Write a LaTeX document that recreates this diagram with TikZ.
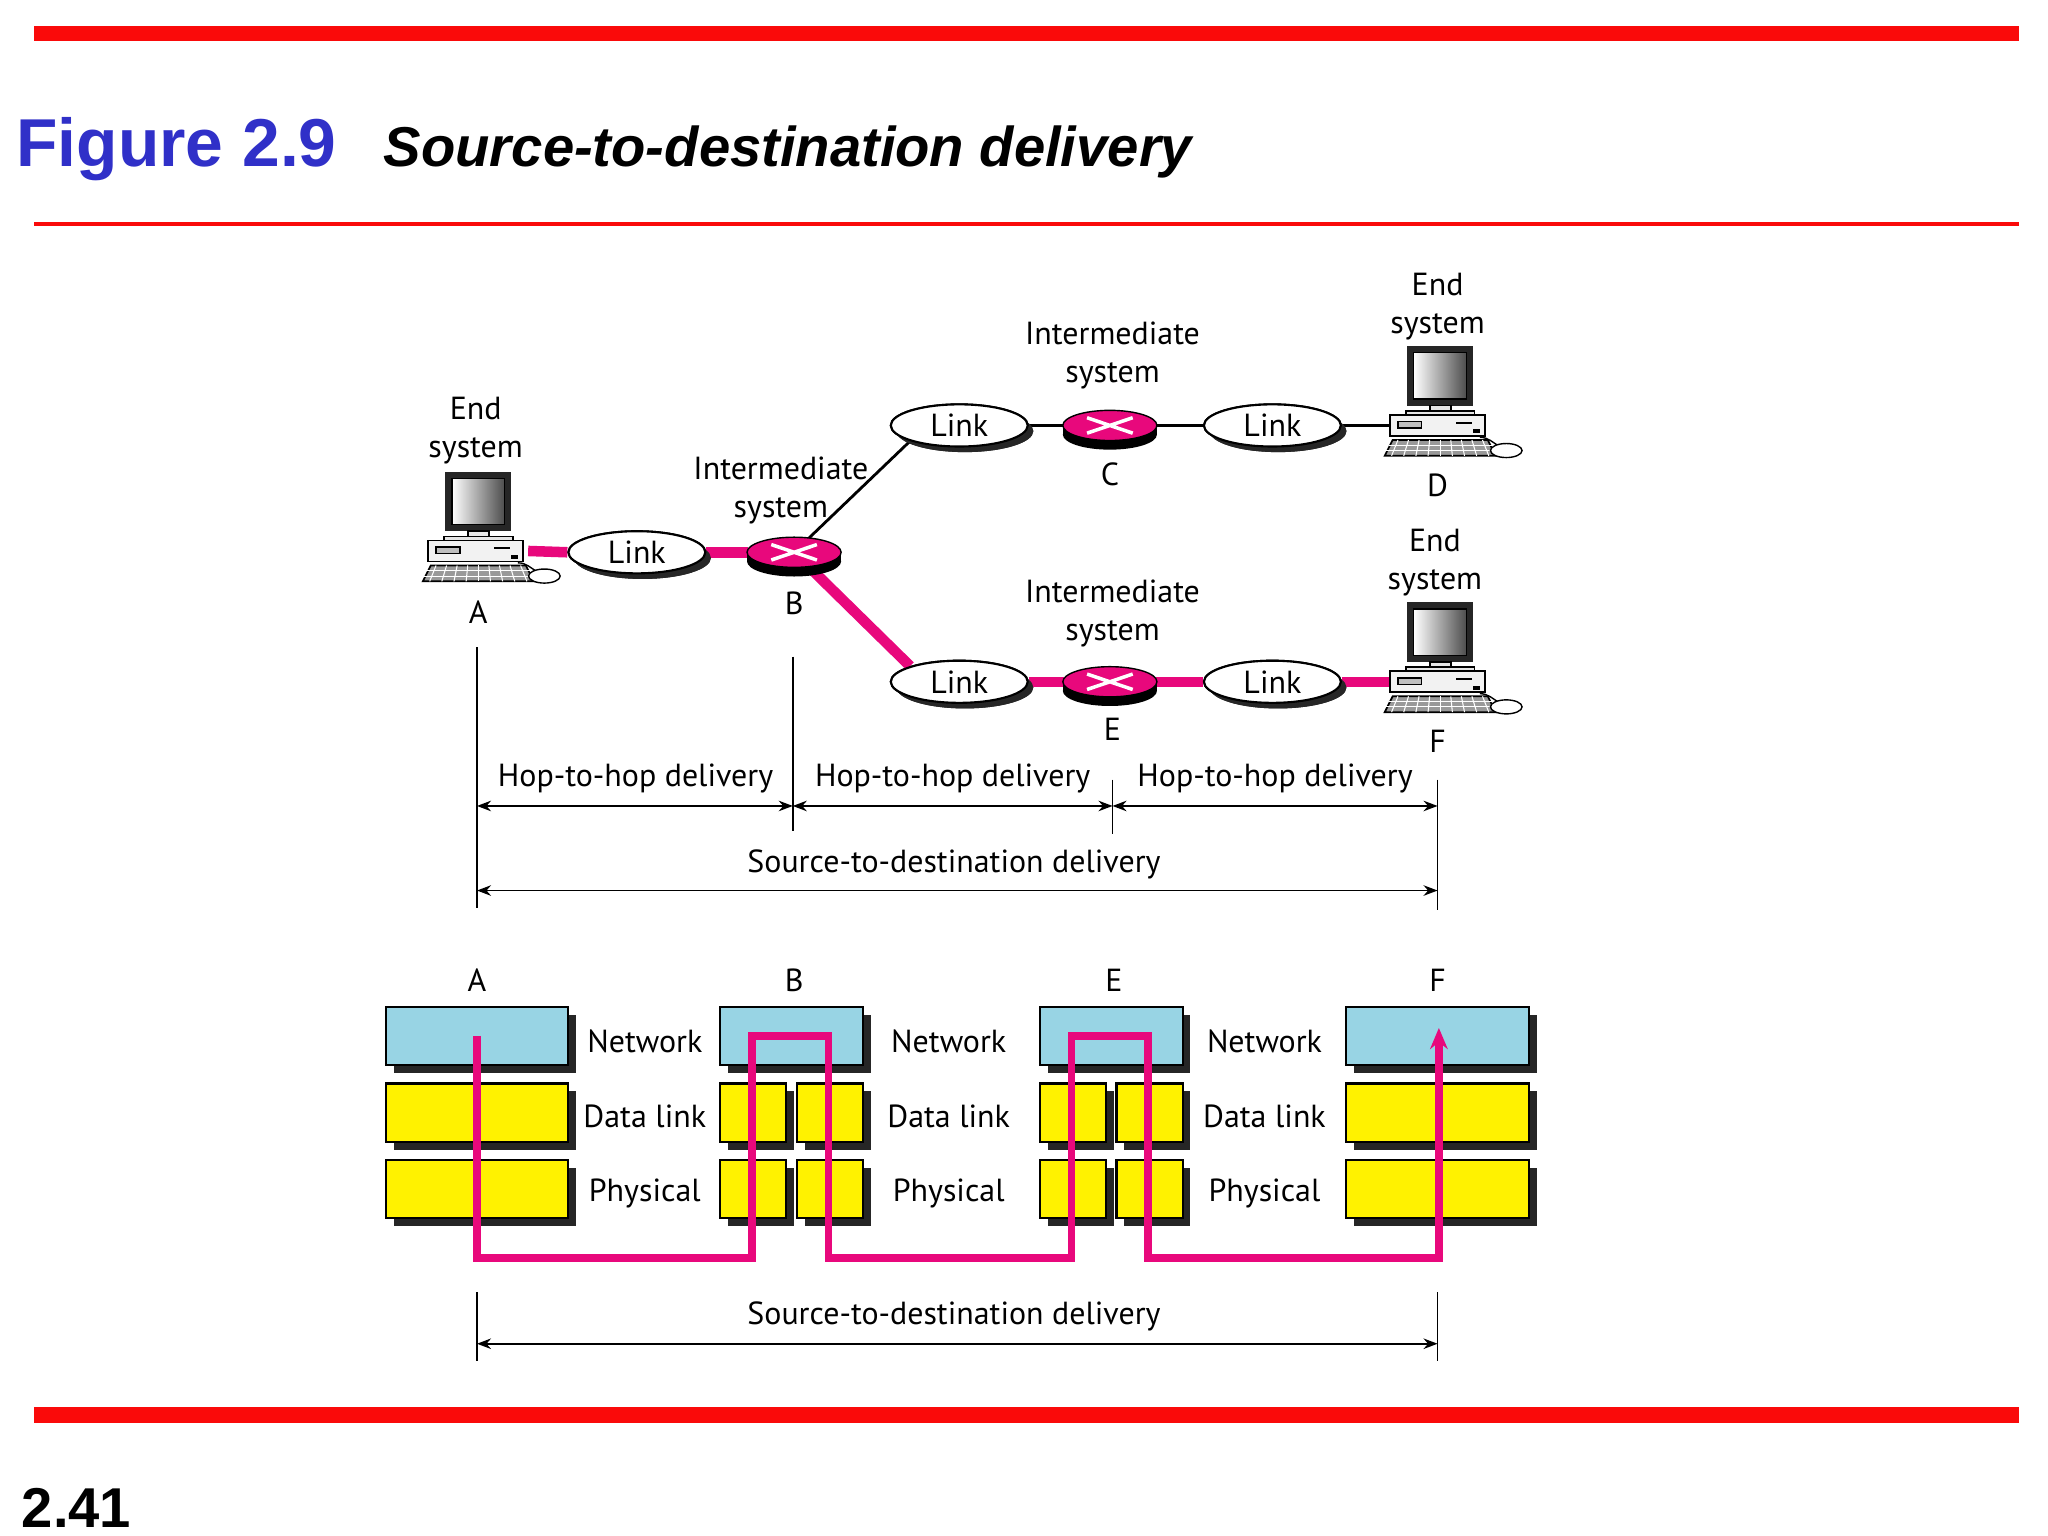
\documentclass[tikz,border=0pt]{standalone}
\usepackage{fontspec}
\setmainfont{PT Sans}
\newfontfamily\titlefont{Liberation Sans}
\usetikzlibrary{arrows.meta, shapes.geometric, shadows, calc}
\definecolor{hot}{RGB}{232,8,124}
\definecolor{netblue}{RGB}{152,212,228}
\definecolor{barred}{RGB}{250,10,10}
\definecolor{titleblue}{RGB}{48,48,200}

\tikzset{
  lbl/.style={font=\fontsize{9.1}{10.8}\selectfont, align=center, inner sep=0pt},
  link/.style={ellipse, draw=black, line width=0.6pt, fill=white, minimum width=39pt, minimum height=12pt, inner sep=0pt,
    font=\fontsize{9.1}{11}\selectfont, drop shadow={shadow xshift=1.6pt, shadow yshift=-1.6pt, fill=black!85, opacity=1}},
  sys/.style={inner sep=0pt, minimum width=28pt, minimum height=4pt},
  rtr/.style={inner sep=0pt, minimum width=26pt, minimum height=8pt},
  hotline/.style={hot, line width=3pt},
  thinline/.style={black, line width=0.8pt},
  dim/.style={black, line width=0.5pt, <->, >={Stealth[length=4pt, width=3pt]}},
  tick/.style={black, line width=0.5pt},
  layer/.style={draw=black, line width=0.6pt},
  pics/computer/.style={code={
    \fill[black!85] (-25,-60) rectangle (25,-15);
    \shade[left color=white, right color=black!70, draw=black, line width=0.4pt] (-20,-55) rectangle (20,-20);
    \draw[black, line width=0.5pt, fill=black!10] (-8,-15) rectangle (8,-10);
    \draw[black, line width=0.5pt, fill=black!10] (-26,-11) rectangle (26,-8);
    \draw[black, line width=0.5pt, fill=black!5] (-38,-8) rectangle (34,8);
    \draw[black, line width=0.4pt, fill=black!25] (-32,-3) rectangle (-14,2);
    \draw[black, line width=0.6pt] (12,-2) -- (24,-2);
    \fill[black] (25,3) rectangle (30,6);
    \draw[black, line width=0.5pt, fill=black!40] (-36,11) -- (36,11) -- (42,23) -- (-42,23) -- cycle;
    \foreach \k in {-32,-24,...,32} \draw[white, line width=0.3pt] (\k,11) -- (\k*1.15,23);
    \draw[white, line width=0.3pt] (-39,15) -- (39,15) (-41,19) -- (41,19);
    \draw[black, line width=0.4pt] (30,9) to[out=0,in=150] (45,16);
    \draw[black, line width=0.4pt, fill=white] (50,19) ellipse (4.5pt and 2pt);
  }},
  pics/router/.style={code={
    \fill[black] (0,-2.6pt) ellipse (13.4pt and 4.3pt);
    \fill[black] (-13.4pt,0) rectangle (13.4pt,-2.6pt);
    \draw[black, line width=0.4pt, fill=hot] (0,0) ellipse (13.4pt and 4.3pt);
    \draw[white, line width=1pt] (-6.5pt,-2.2pt) -- (6.5pt,2.2pt) (-6.5pt,2.2pt) -- (6.5pt,-2.2pt);
  }}
}

\begin{document}
\begin{tikzpicture}[x=0.013226cm, y=-0.013226cm]
\useasboundingbox (0,0) rectangle (1550,1162.5);

% frame bars and title
\fill[barred] (26,20) rectangle (1528,31);
\fill[barred] (26,168) rectangle (1528,171);
\fill[barred] (26,1065) rectangle (1528,1077);
\node[anchor=base west, inner sep=0pt, font=\titlefont\bfseries\fontsize{19.3}{23}\selectfont, text=titleblue] (fig) at (12,126) {Figure 2.9};
\node[anchor=base west, inner sep=0pt, font=\titlefont\bfseries\itshape\fontsize{16}{20}\selectfont] (ttl) at (290,126) {Source-to-destination delivery};
\node[anchor=base west, inner sep=0pt, font=\titlefont\bfseries\fontsize{16}{20}\selectfont] (pg) at (16,1156) {2.41};

% systems
\node[sys] (A) at (362,417) {};
\node[sys] (D) at (1090,322) {};
\node[sys] (F) at (1090,516) {};
\node[rtr] (B) at (601,418) {};
\node[rtr] (C) at (840,322) {};
\node[rtr] (E) at (840,516) {};
\node[link] (L1) at (482,418) {Link};
\node[link] (L2) at (726,322) {Link};
\node[link] (L3) at (963,322) {Link};
\node[link] (L4) at (726,516) {Link};
\node[link] (L5) at (963,516) {Link};

% connectors
\draw[hotline] (A.east) -- (L1.west);
\draw[hotline] (L1.east) -- (B.west);
\draw[hotline] (B.center) -- (L4.north west);
\draw[hotline] (L4.east) -- (E.west);
\draw[hotline] (E.east) -- (L5.west);
\draw[hotline] (L5.east) -- (F.west);
\draw[thinline] (B.center) -- (L2.south west);
\draw[thinline] (L2.east) -- (C.west);
\draw[thinline] (C.east) -- (L3.west);
\draw[thinline] (L3.east) -- (D.west);

% redraw links on top of connectors
\foreach \x/\y in {482/418, 726/322, 963/322, 726/516, 963/516}
  \node[link] at (\x,\y) {Link};
\pic at (A) {computer};
\pic at (D) {computer};
\pic at (F) {computer};
\pic at (B) {router};
\pic at (C) {router};
\pic at (E) {router};

% labels
\node[lbl] (tA) at (360,326) {End\\system};
\node[lbl] (nA) at (362,463) {A};
\node[lbl] (tB) at (591,371) {Intermediate\\system};
\node[lbl] (nB) at (601,457) {B};
\node[lbl] (tC) at (842,269) {Intermediate\\system};
\node[lbl] (nC) at (840,359) {C};
\node[lbl] (tD) at (1088,232) {End\\system};
\node[lbl] (nD) at (1088,367) {D};
\node[lbl] (tE) at (842,464) {Intermediate\\system};
\node[lbl] (nE) at (842,552) {E};
\node[lbl] (tF) at (1086,426) {End\\system};
\node[lbl] (nF) at (1088,561) {F};

% upper dimension lines
\coordinate (vA1) at (361,490); \coordinate (vA2) at (361,687);
\coordinate (vB1) at (600,497); \coordinate (vB2) at (600,629);
\coordinate (vE1) at (842,590); \coordinate (vE2) at (842,631);
\coordinate (vF1) at (1088,590); \coordinate (vF2) at (1088,689);
\draw[tick] (vA1) -- (vA2);
\draw[tick] (vB1) -- (vB2);
\draw[tick] (vE1) -- (vE2);
\draw[tick] (vF1) -- (vF2);
\coordinate (hA) at (361,610); \coordinate (hB) at (600,610);
\coordinate (hE) at (842,610); \coordinate (hF) at (1088,610);
\draw[dim] (hA) -- (hB);
\draw[dim] (hB) -- (hE);
\draw[dim] (hE) -- (hF);
\node[lbl] (h1) at (481,589) {Hop-to-hop delivery};
\node[lbl] (h2) at (721,589) {Hop-to-hop delivery};
\node[lbl] (h3) at (965,589) {Hop-to-hop delivery};
\coordinate (sA) at (361,674); \coordinate (sF) at (1088,674);
\draw[dim] (sA) -- (sF);
\node[lbl] (s1) at (722,654) {Source-to-destination delivery};

% layer stacks
\foreach \x/\w in {292/138, 545/108, 787/108, 1019/138}{
  \fill[black!85] (\x+6,768) rectangle (\x+\w+6,812);
  \draw[layer, fill=netblue] (\x,762) rectangle (\x+\w,806);
}
\foreach \x/\w in {292/138, 1019/138, 545/50, 603/50, 787/50, 845/50}{
  \foreach \y in {820,878}{
    \fill[black!85] (\x+6,\y+6) rectangle (\x+\w+6,\y+50);
    \draw[layer, fill=yellow] (\x,\y) rectangle (\x+\w,\y+44);
  }
}
\foreach \x in {488,718,957}{
  \node[lbl] at (\x,788) {Network};
  \node[lbl] at (\x,845) {Data link};
  \node[lbl] at (\x,903) {Physical};
}
\node[lbl] (bA) at (361,742) {A};
\node[lbl] (bB) at (601,742) {B};
\node[lbl] (bE) at (843,742) {E};
\node[lbl] (bF) at (1088,742) {F};

% data path
\draw[hot, line width=2.2pt, -{Stealth[length=6pt, width=5pt]}]
  (361,784) -- (361,952) -- (569,952) -- (569,784) -- (627,784) -- (627,952)
  -- (811,952) -- (811,784) -- (869,784) -- (869,952) -- (1089,952) -- (1089,778);

% lower dimension line
\coordinate (tA1) at (361,978); \coordinate (tA2) at (361,1030);
\coordinate (tF1) at (1088,978); \coordinate (tF2) at (1088,1030);
\draw[tick] (tA1) -- (tA2);
\draw[tick] (tF1) -- (tF2);
\coordinate (dA) at (361,1017); \coordinate (dF) at (1088,1017);
\draw[dim] (dA) -- (dF);
\node[lbl] (s2) at (722,996) {Source-to-destination delivery};
\end{tikzpicture}
\end{document}
